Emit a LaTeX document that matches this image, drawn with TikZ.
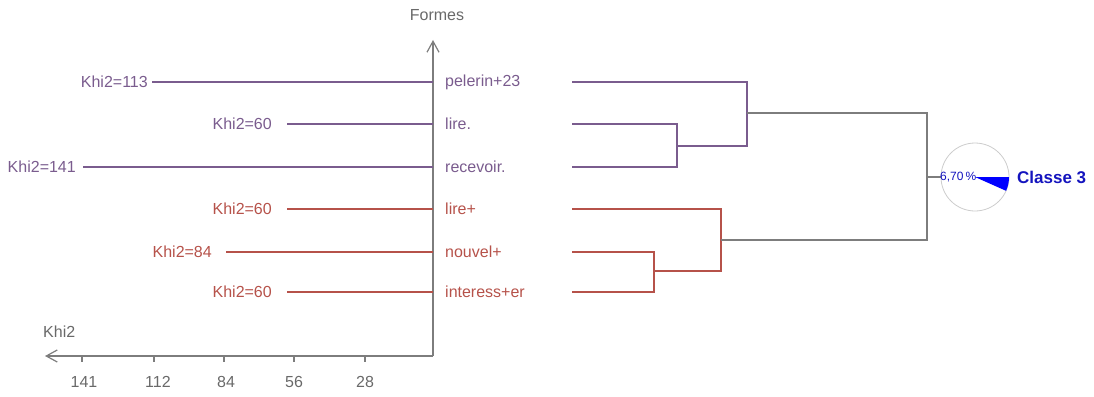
\documentclass[tikz,border=0pt]{standalone}
\usepackage{fontspec}
\setmainfont{Liberation Sans}
\usetikzlibrary{arrows.meta}
\definecolor{purp}{RGB}{122,92,142}
\definecolor{rouge}{RGB}{182,82,74}
\definecolor{axe}{RGB}{125,125,125}
\definecolor{txtgris}{RGB}{105,105,105}
\definecolor{bleu}{RGB}{20,20,190}

\begin{document}
\begin{tikzpicture}[x=1pt,y=-1pt,>={Straight Barb[length=11pt,width=12pt]},
    lab/.style={font=\fontsize{16}{18}\selectfont,inner sep=0pt},
    purpline/.style={draw=purp,line width=1.2pt},
    rougeline/.style={draw=rouge,line width=1.2pt},
    axeline/.style={draw=axe,line width=1.2pt}]
    \useasboundingbox (0,0) rectangle (1094,396);
        % axes
        \coordinate (o) at (433,356);
        \coordinate (ytop) at (433,40);
        \coordinate (xend) at (45,356);
        \draw[axeline,->](o)--(ytop);
        \draw[axeline,->](o)--(xend);
        \node[lab,text=txtgris] (formes) at (437,15) {Formes};
        \node[lab,text=txtgris,anchor=west] (khi) at (43,332) {Khi2};
        \draw[axeline](82,356)--++(0,6);
        \draw[axeline](154,356)--++(0,6);
        \draw[axeline](224,356)--++(0,6);
        \draw[axeline](294,356)--++(0,6);
        \draw[axeline](365,356)--++(0,6);
        \node[lab,text=txtgris] (t141) at (84,382) {141};
        \node[lab,text=txtgris] (t112) at (158,382) {112};
        \node[lab,text=txtgris] (t84) at (226,382) {84};
        \node[lab,text=txtgris] (t56) at (294,382) {56};
        \node[lab,text=txtgris] (t28) at (365,382) {28};
        % khi2 bars
        \coordinate (s1) at (152,82);
        \coordinate (s2) at (287,124);
        \coordinate (s3) at (83,167);
        \coordinate (s4) at (287,209);
        \coordinate (s5) at (226,252);
        \coordinate (s6) at (287,292);
        \node[lab,text=purp,anchor=east] (k1) at ([xshift=-4]s1) {Khi2=113};
        \node[lab,text=purp,anchor=east] (k2) at ([xshift=-15]s2) {Khi2=60};
        \node[lab,text=purp,anchor=east] (k3) at ([xshift=-7]s3) {Khi2=141};
        \node[lab,text=rouge,anchor=east] (k4) at ([xshift=-15]s4) {Khi2=60};
        \node[lab,text=rouge,anchor=east] (k5) at ([xshift=-14]s5) {Khi2=84};
        \node[lab,text=rouge,anchor=east] (k6) at ([xshift=-15]s6) {Khi2=60};
        \draw[purpline](s1)--(s1-|o);
        \draw[purpline](s2)--(s2-|o);
        \draw[purpline](s3)--(s3-|o);
        \draw[rougeline](s4)--(s4-|o);
        \draw[rougeline](s5)--(s5-|o);
        \draw[rougeline](s6)--(s6-|o);
        % formes
        \node[lab,text=purp,anchor=west] (w1) at (445,82) {pelerin+23};
        \node[lab,text=purp,anchor=west] (w2) at (445,124) {lire.};
        \node[lab,text=purp,anchor=west] (w3) at (445,167) {recevoir.};
        \node[lab,text=rouge,anchor=west] (w4) at (445,209) {lire+};
        \node[lab,text=rouge,anchor=west] (w5) at (445,252) {nouvel+};
        \node[lab,text=rouge,anchor=west] (w6) at (445,292) {interess+er};
        % dendrogramme
        \coordinate (d1) at (572,82);
        \coordinate (d2) at (572,124);
        \coordinate (d3) at (572,167);
        \coordinate (d4) at (572,209);
        \coordinate (d5) at (572,252);
        \coordinate (d6) at (572,292);
        \coordinate (j1) at (677,146);
        \coordinate (j2) at (747,113);
        \coordinate (j3) at (654,271);
        \coordinate (j4) at (721,240);
        \coordinate (j5) at (927,177);
        \draw[purpline](d2)-|(j1)|-(d3);
        \draw[purpline](d1)-|(j2)|-(j1);
        \draw[rougeline](d5)-|(j3)|-(d6);
        \draw[rougeline](d4)-|(j4)|-(j3);
        \draw[axeline](j2)-|(j5)|-(j4);
        % classe
        \node[circle,draw=gray!40,line width=0.8pt,minimum size=68pt,inner sep=0pt] (pie) at (975,177) {};
        \fill[blue] (pie.center)--(1009,177) arc[start angle=0,end angle=24,radius=34]--cycle;
        \draw[axeline](j5)--(pie.west);
        \node[inner sep=0pt,text=bleu,anchor=west,font=\fontsize{12}{14}\selectfont] (pct) at (940,177) {6,70\,\%};
        \node[lab,text=bleu,anchor=west,font=\fontsize{17}{19}\selectfont\bfseries] (cl) at (1017,177) {Classe 3};
    \end{tikzpicture}
\end{document}
